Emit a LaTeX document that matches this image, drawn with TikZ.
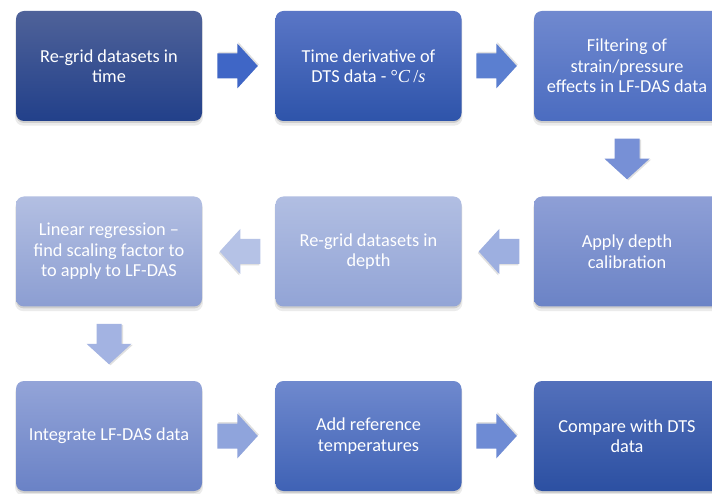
\documentclass[tikz,border=0pt]{standalone}
\usepackage{fontspec}
\setmainfont{Carlito}
\newfontfamily\cambrialike{Liberation Serif}
\usetikzlibrary{calc,shadows}
\definecolor{b1t}{HTML}{4F6299}\definecolor{b1b}{HTML}{22408A}
\definecolor{b2t}{HTML}{5A76C6}\definecolor{b2b}{HTML}{2E54AA}
\definecolor{b3t}{HTML}{7089CF}\definecolor{b3b}{HTML}{4B6CC0}
\definecolor{b4t}{HTML}{B3BFE2}\definecolor{b4b}{HTML}{8C9ED2}
\definecolor{b5t}{HTML}{B1BEE2}\definecolor{b5b}{HTML}{92A4D6}
\definecolor{b6t}{HTML}{8E9FD6}\definecolor{b6b}{HTML}{6B83C6}
\definecolor{b7t}{HTML}{93A4D8}\definecolor{b7b}{HTML}{6A82C6}
\definecolor{b8t}{HTML}{6F89CE}\definecolor{b8b}{HTML}{3F62B5}
\definecolor{b9t}{HTML}{5370BB}\definecolor{b9b}{HTML}{2C50A2}
\definecolor{a12}{HTML}{3F66C6}
\definecolor{a23}{HTML}{5B7FD0}
\definecolor{a36}{HTML}{7790D6}
\definecolor{a65}{HTML}{9DAFE0}
\definecolor{a54}{HTML}{B5C2E6}
\definecolor{a47}{HTML}{A3B3E2}
\definecolor{a78}{HTML}{8FA4DC}
\definecolor{a89}{HTML}{6E8BD4}
\begin{document}
\begin{tikzpicture}[x=1pt,y=-1pt,
  box/.style={rounded corners=8pt, minimum width=186pt, minimum height=110pt,
    inner sep=0pt, align=center, text=white,
    font=\fontsize{18.3}{20.5}\selectfont,
    general shadow={shadow yshift=-2pt, opacity=.12, fill=black},
    general shadow={shadow yshift=-4pt, opacity=.08, fill=black, shadow scale=1.01}},
  barrow/.pic={
    \fill[black, opacity=.12, shift={(1pt,1.5pt)}] (-20,-12.5) -- (0,-12.5) -- (0,-22.5) -- (20.5,0) -- (0,22.5) -- (0,12.5) -- (-20,12.5) -- cycle;
    \fill[pic actions] (-20,-12.5) -- (0,-12.5) -- (0,-22.5) -- (20.5,0) -- (0,22.5) -- (0,12.5) -- (-20,12.5) -- cycle;}
]
\useasboundingbox (0,0) rectangle (712,494);
\fill[white] (0,0) rectangle (712,494);

\node[box, top color=b1t, bottom color=b1b] (b1) at (109,66) {Re-grid datasets in\\time};
\node[box, top color=b2t, bottom color=b2b] (b2) at (368.5,66) {Time derivative of\\DTS data - {\cambrialike °\textit{C}\,/\textit{s}}};
\node[box, top color=b3t, bottom color=b3b] (b3) at (627,66) {Filtering of\\strain/pressure\\effects in LF-DAS data};
\node[box, top color=b4t, bottom color=b4b] (b4) at (109,251.5) {Linear regression --\\find scaling factor to\\to apply to LF-DAS};
\node[box, top color=b5t, bottom color=b5b] (b5) at (368.5,251.5) {Re-grid datasets in\\depth};
\node[box, top color=b6t, bottom color=b6b] (b6) at (627,251.5) {Apply depth\\calibration};
\node[box, top color=b7t, bottom color=b7b] (b7) at (109,436) {Integrate LF-DAS data};
\node[box, top color=b8t, bottom color=b8b] (b8) at (368.5,436) {Add reference\\temperatures};
\node[box, top color=b9t, bottom color=b9b] (b9) at (627,436) {Compare with DTS\\data};

\coordinate (m12) at ($(b1.east)!.5!(b2.west)+(-1.5,0)$);
\coordinate (m23) at ($(b2.east)!.5!(b3.west)+(-1.5,0)$);
\coordinate (m36) at ($(b3.south)!.5!(b6.north)$);
\coordinate (m65) at ($(b6.west)!.5!(b5.east)+(1.5,0)$);
\coordinate (m54) at ($(b5.west)!.5!(b4.east)+(1.5,0)$);
\coordinate (m47) at ($(b4.south)!.5!(b7.north)$);
\coordinate (m78) at ($(b7.east)!.5!(b8.west)+(-1.5,0)$);
\coordinate (m89) at ($(b8.east)!.5!(b9.west)+(-1.5,0)$);

\pic[fill=a12] at (m12) {barrow};
\pic[fill=a23] at (m23) {barrow};
\pic[fill=a36, rotate=-90] at (m36) {barrow};
\pic[fill=a65, rotate=180] at (m65) {barrow};
\pic[fill=a54, rotate=180] at (m54) {barrow};
\pic[fill=a47, rotate=-90] at (m47) {barrow};
\pic[fill=a78] at (m78) {barrow};
\pic[fill=a89] at (m89) {barrow};
\end{tikzpicture}
\end{document}
